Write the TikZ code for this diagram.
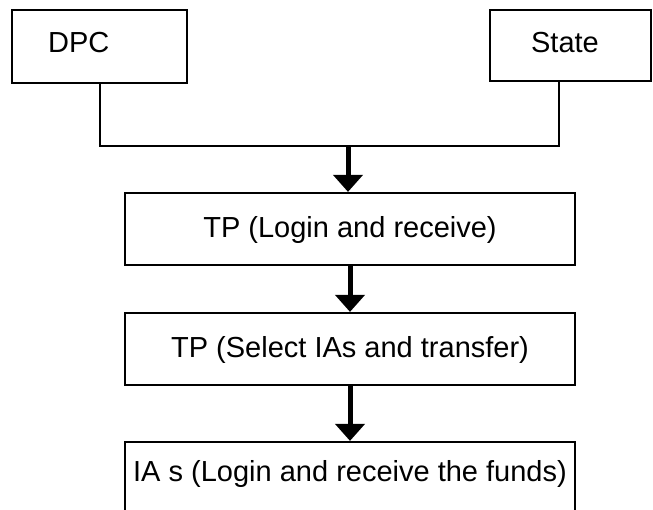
\documentclass[tikz,border=0pt]{standalone}
\usepackage{fontspec}
\setmainfont{Liberation Sans}
\usetikzlibrary{arrows.meta,calc}
\begin{document}
\begin{tikzpicture}[x=1pt,y=-1pt,
  box/.style={draw=black,line width=2.2pt,rectangle,inner sep=0pt,
    font=\fontsize{29}{35}\selectfont},
  lbl/.style={inner sep=0pt,font=\fontsize{29}{35}\selectfont},
  wire/.style={line width=2pt,black},
  arr/.style={line width=5pt,black,-{Triangle[width=29pt,length=17pt]}}]
\useasboundingbox (0,0) rectangle (653,510);
\clip (0,0) rectangle (653,510);
% top boxes
\node[box,minimum width=175pt,minimum height=73pt] (dpc) at (99.5,46.5) {};
\node[lbl,anchor=west] (dpctext) at (48,43) {DPC};
\node[box,minimum width=161pt,minimum height=71pt] (state) at (570.5,45.5) {};
\node[lbl] (statetext) at (565,43) {State};
% flow boxes
\node[box,minimum width=450pt,minimum height=72pt] (tp1) at (350,229) {};
\node[lbl] (tp1text) at (350,230) {TP (Login and receive)};
\node[box,minimum width=450pt,minimum height=72pt] (tp2) at (350,349) {};
\node[lbl] (tp2text) at (350,350) {TP (Select IAs and transfer)};
\node[box,minimum width=450pt,minimum height=72pt] (ias) at (350,478) {};
\node[lbl] (iastext) at (350,474) {IA s (Login and receive the funds)};
% connectors
\coordinate (join) at (348,146);
\coordinate (stdrop) at ($(state.south)+(-11.5,0)$);
\draw[wire] (dpc.south) |- (join) -| (stdrop);
\draw[arr] (join) -- (join |- tp1.north);
\draw[arr] (tp1.south) -- (tp2.north);
\draw[arr] (tp2.south) -- (ias.north);
\end{tikzpicture}
\end{document}
